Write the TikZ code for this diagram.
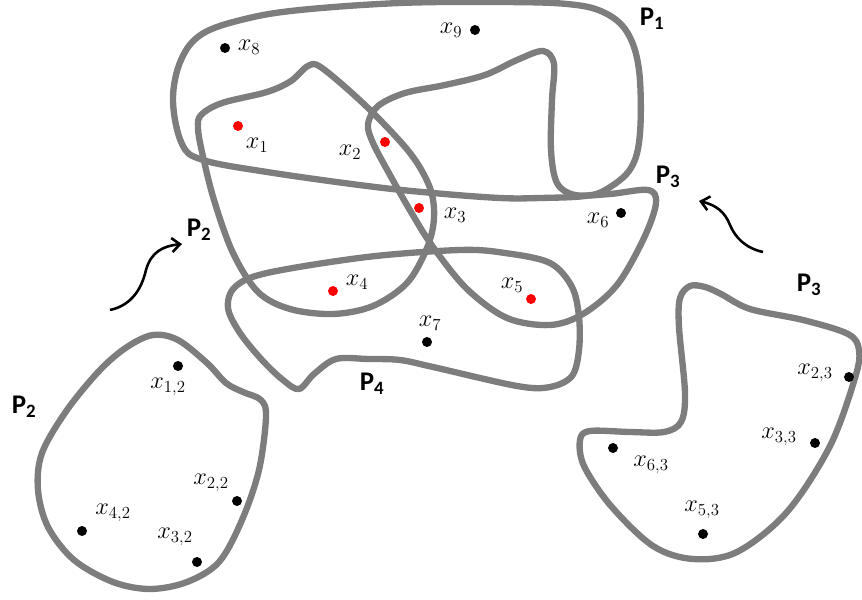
\documentclass[tikz,border=0pt]{standalone}
\usepackage{fontspec}
\newfontfamily\labfont{Carlito}
\usetikzlibrary{arrows.meta}
\tikzset{
  setline/.style={draw=gray!98!black, line width=5.4pt, line join=round},
  dotb/.style={circle, fill=black, inner sep=0pt, minimum size=8.5pt},
  dotr/.style={circle, fill=red, inner sep=0pt, minimum size=8.5pt},
  xlab/.style={inner sep=0pt, font=\fontsize{22}{26}\selectfont},
  plab/.style={inner sep=0pt, font=\labfont\bfseries\fontsize{23}{27}\selectfont},
  arr/.style={line width=2.2pt, -{Straight Barb[length=7pt,width=12pt,line width=2.2pt]}}
}
\begin{document}
\begin{tikzpicture}[x=0.03cm, y=-0.03cm]
\useasboundingbox (0,0) rectangle (862,600);
% P1
\draw[setline] plot[smooth cycle, tension=0.6] coordinates {
 (173,100) (181,60) (202,34) (245,19) (300,10) (400,3) (500,2) (567,4) (603,12) (627,32)
 (639,70) (640,133) (631,168) (607,189) (585,196) (540,198) (500,198) (433,193) (367,186)
 (267,172) (203,160) (182,144)};
% P3 upper
\draw[setline] plot[smooth cycle, tension=0.55] coordinates {
 (543,51) (554,64) (552,100) (551,150) (557,183) (575,195) (610,194) (648,190) (656,203)
 (644,238) (617,285) (583,314) (550,325) (507,318) (467,289) (433,247) (411,212) (390,175)
 (373,143) (368,124) (378,106) (405,93) (445,85) (485,75) (517,60)};
% P2 upper
\draw[setline] plot[smooth cycle, tension=0.55] coordinates {
 (201,115) (222,103) (267,92) (291,81) (308,66) (322,68) (367,107) (410,153) (430,188)
 (434,218) (427,248) (407,283) (373,306) (333,314) (290,309) (258,292) (233,253) (214,200)
 (202,152) (198,128)};
% P4
\draw[setline] plot[smooth cycle, tension=0.55] coordinates {
 (460,250) (505,253) (550,263) (572,287) (579,317) (579,350) (572,376) (550,387) (517,386)
 (433,367) (400,360) (368,359) (336,359) (314,374) (299,389) (283,380) (262,360) (240,333)
 (228,308) (235,287) (267,273) (367,257)};
% P2 lower
\draw[setline] plot[smooth cycle, tension=0.55] coordinates {
 (153,335) (127,347) (100,370) (67,410) (42,453) (38,490) (48,527) (74,560) (113,582)
 (150,589) (187,582) (219,562) (242,520) (259,470) (266,417) (261,400) (243,392) (226,383)
 (207,363) (178,340)};
% P3 lower
\draw[setline] plot[smooth cycle, tension=0.55] coordinates {
 (690,286) (705,287) (721,294) (750,309) (803,320) (848,334) (859,350) (855,378) (830,446)
 (787,512) (737,552) (693,559) (653,546) (611,506) (584,466) (580,440) (590,431) (630,432)
 (664,432) (681,422) (685,393) (679,327) (680,298)};
% points
\node[dotr] (x1) at (238,126) {};
\node[dotr] (x2) at (385,142) {};
\node[dotr] (x3) at (419,208) {};
\node[dotr] (x4) at (333,291) {};
\node[dotr] (x5) at (531,299) {};
\node[dotb] (x6) at (621,213) {};
\node[dotb] (x7) at (427,342) {};
\node[dotb] (x8) at (225,48) {};
\node[dotb] (x9) at (475,30) {};
\node[dotb] (x12) at (178,366) {};
\node[dotb] (x22) at (237,501) {};
\node[dotb] (x32) at (197,562) {};
\node[dotb] (x42) at (82,531) {};
\node[dotb] (x23) at (849,377) {};
\node[dotb] (x33) at (815,443) {};
\node[dotb] (x53) at (703,534) {};
\node[dotb] (x63) at (613,448) {};
% labels
\node[xlab] (l1) at (257,145) {$x_1$};
\node[xlab] (l2) at (350,152) {$x_2$};
\node[xlab] (l3) at (455,215) {$x_3$};
\node[xlab] (l4) at (357,282) {$x_4$};
\node[xlab] (l5) at (512,285) {$x_5$};
\node[xlab] (l6) at (598,220) {$x_6$};
\node[xlab] (l7) at (430,323) {$x_7$};
\node[xlab] (l8) at (249,47) {$x_8$};
\node[xlab] (l9) at (451,30) {$x_9$};
\node[xlab] (l12) at (168,387) {$x_{1,2}$};
\node[xlab] (l22) at (211,483) {$x_{2,2}$};
\node[xlab] (l32) at (175,537) {$x_{3,2}$};
\node[xlab] (l42) at (113,513) {$x_{4,2}$};
\node[xlab] (l23) at (815,373) {$x_{2,3}$};
\node[xlab] (l33) at (779,437) {$x_{3,3}$};
\node[xlab] (l63) at (651,465) {$x_{6,3}$};
\node[xlab] (l53) at (702,510) {$x_{5,3}$};
\node[plab] (P1) at (652,19) {P\textsubscript{1}};
\node[plab] (P3a) at (668,177) {P\textsubscript{3}};
\node[plab] (P2a) at (199,230) {P\textsubscript{2}};
\node[plab] (P4) at (372,384) {P\textsubscript{4}};
\node[plab] (P2b) at (24,407) {P\textsubscript{2}};
\node[plab] (P3b) at (809,285) {P\textsubscript{3}};
% arrows
\coordinate (a1s) at (110,310);
\coordinate (a1e) at (182,244);
\coordinate (a2s) at (763,252);
\coordinate (a2e) at (699,201);
\draw[arr] (a1s) .. controls (133,305) and (142,287) .. (146,270) .. controls (151,252) and (163,246) .. (a1e);
\draw[arr] (a2s) .. controls (745,248) and (735,237) .. (730,225) .. controls (725,212) and (716,205) .. (a2e);
\end{tikzpicture}
\end{document}
